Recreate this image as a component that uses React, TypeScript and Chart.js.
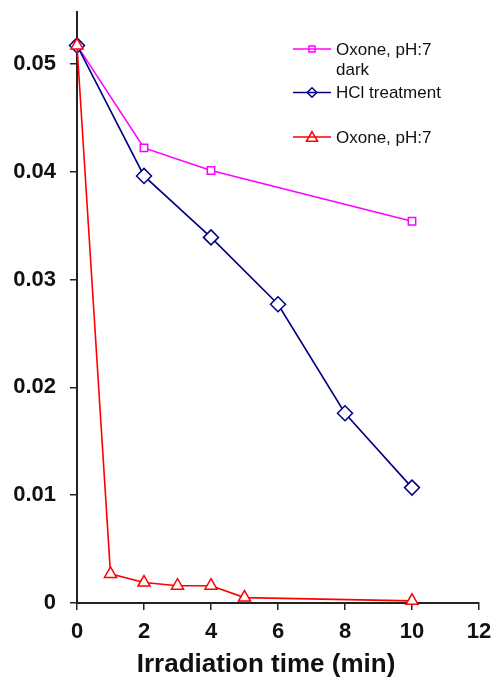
import React, { useEffect, useRef } from 'react';
import { Chart, registerables } from 'chart.js';

Chart.register(...registerables);

// ---- data ----
const darkTimes = [0, 2, 4, 10];
const darkValues = [0.0517, 0.0422, 0.0401, 0.0354];
const hclTimes = [0, 2, 4, 6, 8, 10];
const hclValues = [0.0517, 0.0396, 0.0339, 0.0277, 0.0176, 0.0107];
const oxoneTimes = [0, 1, 2, 3, 4, 5, 10];
const oxoneValues = [0.0517, 0.0027, 0.0019, 0.0016, 0.0016, 0.0005, 0.0002];
const seriesLabels = ['Oxone, pH:7\ndark', 'HCl treatment', 'Oxone, pH:7'];
const xTickValues = [0, 2, 4, 6, 8, 10, 12];
const yTickValues = [0, 0.01, 0.02, 0.03, 0.04, 0.05];
const xAxisTitle = 'Irradiation time (min)';

const FONT = '"Liberation Sans", Arial, Helvetica, sans-serif';
const MAGENTA = '#FF00FF';
const NAVY = '#000080';
const RED = '#FF0000';

function toPoints(xs: number[], ys: number[]) {
  return xs.map((x, i) => ({ x, y: ys[i] }));
}

function drawMarker(ctx: CanvasRenderingContext2D, style: string, x: number, y: number, color: string) {
  ctx.save();
  ctx.strokeStyle = color;
  ctx.lineWidth = 1.5;
  ctx.beginPath();
  if (style === 'rect') {
    const s = 3;
    ctx.rect(x - s, y - s, 2 * s, 2 * s);
  } else if (style === 'rectRot') {
    const h = 4.8;
    ctx.moveTo(x - h, y);
    ctx.lineTo(x, y + h);
    ctx.lineTo(x + h, y);
    ctx.lineTo(x, y - h);
    ctx.closePath();
  } else {
    const r = 6.5;
    for (let k = 0; k < 3; k++) {
      const a = -Math.PI / 2 + (k * 2 * Math.PI) / 3;
      const px = x + Math.cos(a) * r;
      const py = y + Math.sin(a) * r + 1;
      if (k === 0) ctx.moveTo(px, py);
      else ctx.lineTo(px, py);
    }
    ctx.closePath();
  }
  ctx.stroke();
  ctx.restore();
}

const overlayPlugin = {
  id: 'overlay',
  afterDraw(chart: any) {
    const ctx: CanvasRenderingContext2D = chart.ctx;
    ctx.save();
    // legend
    const entries = [
      { label: seriesLabels[0], color: MAGENTA, style: 'rect', y: 49 },
      { label: seriesLabels[1], color: NAVY, style: 'rectRot', y: 92.5 },
      { label: seriesLabels[2], color: RED, style: 'triangle', y: 137 },
    ];
    ctx.font = `17px ${FONT}`;
    ctx.textAlign = 'left';
    ctx.textBaseline = 'middle';
    ctx.fillStyle = '#111';
    for (const e of entries) {
      ctx.strokeStyle = e.color;
      ctx.lineWidth = 1.6;
      ctx.beginPath();
      ctx.moveTo(293, e.y);
      ctx.lineTo(331, e.y);
      ctx.stroke();
      drawMarker(ctx, e.style, 312, e.y, e.color);
      const lines = e.label.split('\n');
      lines.forEach((ln, i) => {
        ctx.fillStyle = '#111';
        ctx.fillText(ln, 336, e.y + 1 + i * 20);
      });
    }
    // x axis title
    ctx.font = `bold 26px ${FONT}`;
    ctx.textAlign = 'center';
    ctx.textBaseline = 'alphabetic';
    ctx.fillStyle = '#111';
    ctx.fillText(xAxisTitle, 266, 672);
    ctx.restore();
  },
};

export default function App() {
  const ref = useRef<HTMLCanvasElement | null>(null);

  useEffect(() => {
    document.body.style.margin = '0';
    if (!ref.current) return;
    const chart = new Chart(ref.current, {
      type: 'line',
      data: {
        datasets: [
          {
            label: seriesLabels[2],
            data: toPoints(oxoneTimes, oxoneValues),
            borderColor: RED,
            backgroundColor: '#fff',
            borderWidth: 1.6,
            pointStyle: 'triangle',
            pointRadius: 7,
            pointBorderWidth: 1.5,
            pointBackgroundColor: '#fff',
            pointBorderColor: RED,
            tension: 0,
            clip: false as any,
          },
          {
            label: seriesLabels[1],
            data: toPoints(hclTimes, hclValues),
            borderColor: NAVY,
            backgroundColor: '#fff',
            borderWidth: 1.6,
            pointStyle: 'rectRot',
            pointRadius: 7.5,
            pointBorderWidth: 1.5,
            pointBackgroundColor: '#fff',
            pointBorderColor: NAVY,
            tension: 0,
            clip: false as any,
          },
          {
            label: seriesLabels[0],
            data: toPoints(darkTimes, darkValues),
            borderColor: MAGENTA,
            backgroundColor: '#fff',
            borderWidth: 1.6,
            pointStyle: 'rect',
            pointRadius: 5.2,
            pointBorderWidth: 1.5,
            pointBackgroundColor: '#fff',
            pointBorderColor: MAGENTA,
            tension: 0,
            clip: false as any,
          },
        ],
      },
      options: {
        responsive: false,
        animation: false,
        layout: { padding: { top: 12, right: 13, left: 0, bottom: 0 } },
        plugins: {
          legend: { display: false },
          tooltip: { enabled: false },
          title: { display: false },
        },
        scales: {
          x: {
            type: 'linear',
            min: 0,
            max: 12,
            afterBuildTicks: (scale: any) => {
              scale.ticks = xTickValues.map((v) => ({ value: v }));
            },
            afterFit: (scale: any) => {
              scale.height = 74;
              scale.paddingLeft = 0;
              scale.paddingRight = 0;
            },
            grid: {
              drawOnChartArea: false,
              drawTicks: true,
              tickLength: 7,
              color: '#222',
              lineWidth: 1.5,
            },
            border: { display: true, color: '#222', width: 2 },
            ticks: {
              color: '#111',
              padding: 9,
              font: { family: FONT, size: 22, weight: 'bold' },
              callback: (v: any) => String(v),
            },
          },
          y: {
            type: 'linear',
            min: 0,
            max: 0.0548,
            afterBuildTicks: (scale: any) => {
              scale.ticks = yTickValues.map((v) => ({ value: v }));
            },
            afterFit: (scale: any) => {
              scale.width = 77;
              scale.paddingTop = 0;
              scale.paddingBottom = 0;
            },
            grid: {
              drawOnChartArea: false,
              drawTicks: true,
              tickLength: 7,
              color: '#222',
              lineWidth: 1.5,
            },
            border: { display: true, color: '#222', width: 2 },
            ticks: {
              color: '#111',
              padding: 14,
              font: { family: FONT, size: 22, weight: 'bold' },
              callback: (v: any) => (Number(v) === 0 ? '0' : Number(v).toFixed(2)),
            },
          },
        },
      },
      plugins: [overlayPlugin],
    });
    return () => chart.destroy();
  }, []);

  return <canvas ref={ref} width={492} height={677} style={{ display: 'block' }} />;
}
